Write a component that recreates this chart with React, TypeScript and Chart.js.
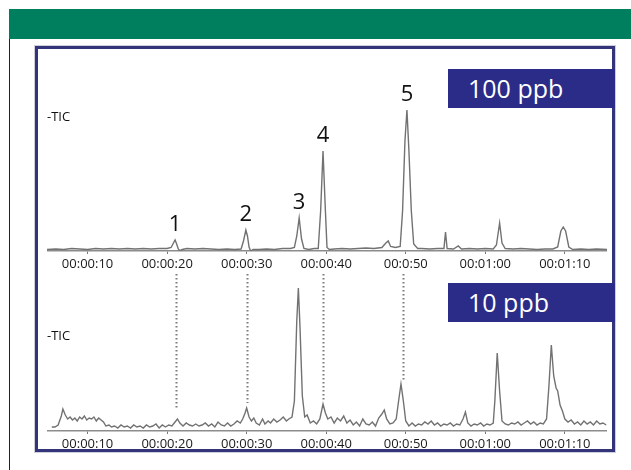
import React, { useEffect, useRef } from "react";
import { Chart, registerables } from "chart.js";

Chart.register(...registerables);

// ---- data ----
const tickValues = [10, 20, 30, 40, 50, 60, 70];
const tickLabels = ["00:00:10", "00:00:20", "00:00:30", "00:00:40", "00:0:50", "00:01:00", "00:01:10"];

const panelTitles = ["100 ppb", "10 ppb"];
const traceLabel = "-TIC";

// 100 ppb trace: [time (s), intensity]
const tic100ppb: [number, number][] = [
  [4.9, 1.5], [6.0, 2], [7.0, 1.5], [8.0, 2.5], [9.0, 2], [10.0, 1.5], [11.0, 2.5], [12.0, 2],
  [13.0, 2.5], [14.0, 2], [15.0, 2.5], [16.0, 2], [17.0, 2.5], [18.0, 2], [19.0, 2.5], [20.0, 2.5],
  [20.5, 3.5], [20.8, 8], [21.0, 11], [21.2, 7], [21.4, 2], [21.6, 0.3], [21.9, 1.5], [22.5, 2.5],
  [23.5, 2], [24.5, 2.5], [25.5, 2], [26.5, 1.5], [27.5, 2], [28.5, 1.5], [29.3, 2], [29.6, 10],
  [29.9, 21], [30.1, 15], [30.3, 4], [30.5, 0], [30.8, 1.5], [31.5, 1.5], [32.5, 2], [33.5, 1.5],
  [34.5, 2.5], [35.5, 2.5], [36.0, 3.5], [36.3, 15], [36.6, 33], [36.9, 12], [37.2, 2.5], [37.8, 1.5],
  [38.5, 2.5], [39.0, 2.5], [39.3, 40], [39.6, 100], [39.9, 40], [40.1, 3.5], [40.4, 1.5], [41.0, 2],
  [42.0, 2.5], [43.0, 2], [44.0, 2.5], [45.0, 3], [46.0, 2.5], [47.0, 3.5], [47.5, 8], [47.8, 10],
  [48.1, 4.5], [48.7, 3.5], [49.3, 4.5], [49.6, 40], [49.9, 110], [50.15, 141], [50.4, 100], [50.7, 40],
  [51.0, 7], [51.5, 2.5], [52.0, 2.5], [53.0, 2], [54.0, 2.5], [54.8, 2.5], [55.0, 19], [55.2, 2.5],
  [56.0, 2], [56.6, 5], [57.0, 2], [58.0, 2.5], [59.0, 2], [60.0, 2.5], [61.0, 2], [61.4, 6],
  [61.8, 28], [62.1, 8], [62.5, 2.5], [63.5, 2], [64.5, 2.5], [65.5, 2], [66.5, 1.5], [67.5, 2],
  [68.5, 2], [69.1, 4], [69.5, 20], [69.8, 24], [70.1, 20], [70.5, 4], [71.0, 1.5], [72.0, 2],
  [73.0, 1.5], [74.0, 2], [75.3, 1.5],
];

// 10 ppb trace: [time (s), intensity]
const tic10ppb: [number, number][] = [
  [5.5, 4], [5.9, 4], [6.3, 6], [6.7, 15], [6.9, 22], [7.2, 16], [7.5, 12], [7.8, 14], [8.1, 11],
  [8.4, 13], [8.7, 10], [9.0, 14], [9.3, 12], [9.6, 15], [9.9, 11], [10.2, 13], [10.5, 12], [10.8, 14],
  [11.1, 10], [11.4, 13], [11.7, 11], [12.0, 9], [12.3, 5], [12.7, 6], [13.0, 4], [13.4, 5], [13.8, 3],
  [14.2, 6], [14.6, 4], [15.0, 5], [15.4, 3], [15.8, 6], [16.2, 4], [16.6, 5], [17.0, 3], [17.4, 6],
  [17.8, 4], [18.2, 5], [18.6, 7], [19.0, 3], [19.4, 6], [19.8, 4], [20.2, 6], [20.6, 5], [21.0, 9],
  [21.3, 12], [21.6, 8], [22.0, 5], [22.4, 8], [22.8, 6], [23.2, 5], [23.6, 7], [24.0, 5], [24.4, 6],
  [24.8, 8], [25.2, 5], [25.6, 7], [26.0, 4], [26.4, 9], [26.8, 6], [27.2, 5], [27.6, 8], [28.0, 5],
  [28.4, 7], [28.8, 10], [29.2, 8], [29.5, 12], [29.8, 18], [30.0, 23], [30.3, 14], [30.6, 10], [30.9, 13],
  [31.2, 8], [31.6, 6], [32.0, 12], [32.3, 7], [32.7, 10], [33.0, 8], [33.4, 12], [33.8, 9], [34.2, 11],
  [34.6, 14], [35.0, 10], [35.3, 12], [35.7, 14], [36.0, 30], [36.3, 110], [36.5, 143], [36.7, 105], [37.0, 35],
  [37.3, 14], [37.6, 16], [38.0, 8], [38.4, 10], [38.8, 7], [39.2, 12], [39.6, 27], [39.9, 18], [40.2, 12],
  [40.6, 14], [41.0, 8], [41.4, 13], [41.8, 10], [42.2, 15], [42.6, 8], [43.0, 11], [43.4, 6], [43.8, 9],
  [44.2, 5], [44.6, 12], [45.0, 7], [45.4, 6], [45.8, 9], [46.2, 5], [46.6, 13], [47.0, 17], [47.3, 21],
  [47.6, 12], [48.0, 7], [48.4, 8], [48.8, 12], [49.1, 30], [49.4, 47], [49.7, 30], [50.0, 10], [50.4, 5],
  [50.8, 8], [51.2, 5], [51.6, 7], [52.0, 6], [52.4, 9], [52.8, 7], [53.2, 10], [53.6, 6], [54.0, 8],
  [54.4, 5], [54.8, 7], [55.2, 6], [55.6, 8], [56.0, 5], [56.4, 7], [56.8, 6], [57.2, 12], [57.5, 19],
  [57.8, 8], [58.2, 5], [58.6, 7], [59.0, 6], [59.4, 8], [59.8, 5], [60.2, 7], [60.6, 6], [61.0, 8],
  [61.2, 30], [61.5, 78], [61.8, 40], [62.1, 10], [62.5, 7], [62.9, 6], [63.3, 8], [63.7, 7], [64.1, 9],
  [64.5, 6], [64.9, 8], [65.3, 10], [65.7, 7], [66.1, 9], [66.5, 6], [66.9, 8], [67.3, 7], [67.7, 12],
  [68.0, 45], [68.3, 86], [68.6, 55], [68.9, 43], [69.1, 40], [69.4, 26], [69.7, 20], [70.0, 12], [70.4, 9],
  [70.8, 11], [71.2, 7], [71.6, 9], [72.0, 6], [72.4, 10], [72.8, 7], [73.2, 9], [73.6, 6], [74.0, 10],
  [74.4, 7], [74.8, 8], [75.2, 6],
];

// numbered peaks in the 100 ppb trace
const peakLabels = ["1", "2", "3", "4", "5"];
const peakTimes = [21.0, 29.9, 36.6, 39.6, 50.15];
const peakTops = [11, 21, 33, 100, 141];

// dotted guide lines carried into the 10 ppb trace
const guideTimes = [21.1, 30.1, 39.6, 49.6];
const guideEnds = [21, 28, 30, 50];

const X_MIN = 4.9;
const X_MAX = 75.3;
const FONT = '"Open Sans", "Noto Sans", sans-serif';

function makeConfig(points: [number, number][], yMax: number, plugin: any): any {
  return {
    type: "line",
    data: {
      datasets: [
        {
          data: points.map(([x, y]) => ({ x, y })),
          borderColor: "#727272",
          borderWidth: 1.4,
          pointRadius: 0,
          fill: false,
          tension: 0,
        },
      ],
    },
    options: {
      animation: false,
      responsive: false,
      maintainAspectRatio: false,
      layout: { padding: 0 },
      plugins: { legend: { display: false }, tooltip: { enabled: false } },
      scales: {
        x: {
          type: "linear",
          min: X_MIN,
          max: X_MAX,
          grid: { display: true, drawOnChartArea: false, drawTicks: true, tickLength: 3, color: "#777", lineWidth: 1 },
          border: { display: true, color: "#8c8c8c", width: 1.5 },
          ticks: {
            autoSkip: false,
            maxRotation: 0,
            padding: 2,
            color: "#1a1a1a",
            font: { family: FONT, size: 13 },
            callback: (v: number) => {
              const i = tickValues.indexOf(v);
              return i >= 0 ? tickLabels[i] : "";
            },
          },
          afterBuildTicks: (s: any) => {
            s.ticks = tickValues.map((v) => ({ value: v }));
          },
          afterFit: (s: any) => {
            s.height = 22;
          },
        },
        y: { type: "linear", display: false, min: 0, max: yMax },
      },
    },
    plugins: [plugin],
  };
}

const peakLabelPlugin = {
  id: "peakLabels",
  afterDatasetsDraw(chart: any) {
    const { ctx, scales } = chart;
    ctx.save();
    ctx.font = `22px ${FONT}`;
    ctx.fillStyle = "#111";
    ctx.textAlign = "center";
    ctx.textBaseline = "alphabetic";
    peakLabels.forEach((lab, i) => {
      const x = scales.x.getPixelForValue(peakTimes[i]);
      const y = scales.y.getPixelForValue(peakTops[i]) - 9;
      ctx.fillText(lab, x, y);
    });
    ctx.restore();
  },
};

const guidePlugin = {
  id: "guides",
  beforeDatasetsDraw(chart: any) {
    const { ctx, scales, chartArea } = chart;
    ctx.save();
    ctx.strokeStyle = "#7a7a7a";
    ctx.lineWidth = 2;
    ctx.setLineDash([1.5, 2.5]);
    guideTimes.forEach((t, i) => {
      const x = Math.round(scales.x.getPixelForValue(t)) + 0.5;
      ctx.beginPath();
      ctx.moveTo(x, chartArea.top + 2);
      ctx.lineTo(x, scales.y.getPixelForValue(guideEnds[i]));
      ctx.stroke();
    });
    ctx.restore();
  },
};

function Panel(props: { points: [number, number][]; yMax: number; plugin: any; left: number; top: number; width: number; height: number }) {
  const ref = useRef<HTMLCanvasElement | null>(null);
  useEffect(() => {
    if (!ref.current) return;
    const chart = new Chart(ref.current, makeConfig(props.points, props.yMax, props.plugin));
    return () => chart.destroy();
  }, []);
  return (
    <canvas
      ref={ref}
      width={props.width}
      height={props.height}
      style={{ position: "absolute", left: props.left, top: props.top, width: props.width, height: props.height }}
    />
  );
}

const boxStyle = (top: number): React.CSSProperties => ({
  position: "absolute",
  left: 448,
  top,
  width: 167,
  height: 39,
  background: "#2b2c88",
  color: "#fff",
  fontFamily: FONT,
  fontSize: 25,
  lineHeight: "39px",
  paddingLeft: 20,
  boxSizing: "border-box",
  whiteSpace: "nowrap",
});

const ticStyle = (top: number): React.CSSProperties => ({
  position: "absolute",
  left: 47,
  top,
  fontFamily: FONT,
  fontSize: 13,
  lineHeight: "15px",
  color: "#111",
});

export default function App() {
  return (
    <div style={{ position: "fixed", left: 0, top: 0, width: 631, height: 470, background: "#fff", overflow: "hidden" }}>
      <div style={{ position: "absolute", left: 9, top: 9, width: 622, height: 30, background: "#007f5f" }} />
      <div style={{ position: "absolute", left: 9, top: 39, width: 1, height: 431, background: "#222" }} />
      <div
        style={{
          position: "absolute",
          left: 35,
          top: 46,
          width: 580,
          height: 406,
          border: "3px solid #34347a",
          boxSizing: "border-box",
          boxShadow: "0 0 0 1px #cfcfdc",
        }}
      />
      <Panel points={tic100ppb} yMax={201} plugin={peakLabelPlugin} left={47} top={50} width={560} height={223} />
      <Panel points={tic10ppb} yMax={159} plugin={guidePlugin} left={47} top={272} width={560} height={181} />
      <div style={ticStyle(109)}>{traceLabel}</div>
      <div style={ticStyle(328)}>{traceLabel}</div>
      <div style={boxStyle(69)}>{panelTitles[0]}</div>
      <div style={boxStyle(283)}>{panelTitles[1]}</div>
    </div>
  );
}
